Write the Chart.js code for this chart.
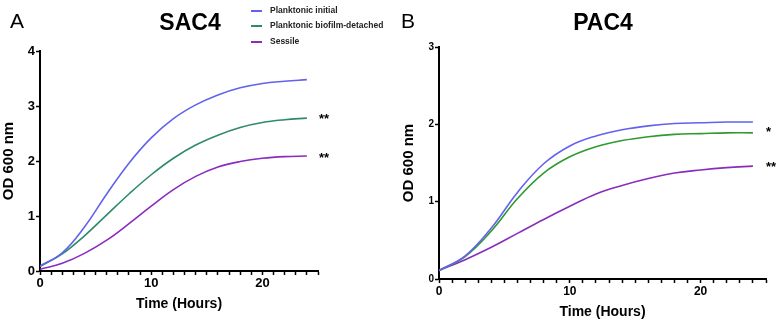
<!DOCTYPE html>
<html>
<head>
<meta charset="utf-8">
<script src="https://cdn.jsdelivr.net/npm/chart.js@4"></script>
<style>
  body { margin: 0; background: #fff; font-family: "Liberation Sans", Arial, sans-serif; }
  #wrap { position: relative; width: 783px; height: 321px; overflow: hidden; }
  canvas { position: absolute; top: 0; }
  .txt { position: absolute; color: #000; white-space: nowrap; }
  .letter { font-size: 21px; }
  .title { font-size: 23px; font-weight: bold; transform: translateX(-50%); }
  .leg { font-size: 8.5px; font-weight: bold; color: #222; }
  .legline { position: absolute; width: 11px; height: 2px; }
  .star { font-size: 13px; font-weight: bold; }
</style>
</head>
<body>
<div id="wrap">
  <canvas id="chartA" width="390" height="321" style="left:0"></canvas>
  <canvas id="chartB" width="393" height="321" style="left:390px"></canvas>

  <div class="txt letter" style="left:10px; top:9px">A</div>
  <div class="txt letter" style="left:401px; top:9px">B</div>
  <div class="txt title" style="left:190px; top:9px">SAC4</div>
  <div class="txt title" style="left:603px; top:9px">PAC4</div>

  <div class="legline" style="left:251px; top:10px; background:#6262ee"></div>
  <div class="txt leg" style="left:270px; top:5px">Planktonic initial</div>
  <div class="legline" style="left:251px; top:25px; background:#2e8a6a"></div>
  <div class="txt leg" style="left:270px; top:20px">Planktonic biofilm-detached</div>
  <div class="legline" style="left:251px; top:41px; background:#8a2cbd"></div>
  <div class="txt leg" style="left:270px; top:36px">Sessile</div>

  <div class="txt star" style="left:319px; top:111px">**</div>
  <div class="txt star" style="left:319px; top:150px">**</div>
  <div class="txt star" style="left:766px; top:124px">*</div>
  <div class="txt star" style="left:766px; top:159px">**</div>
</div>
<script>
// time points (hours)
const hours = [0, 2, 4, 6, 8, 10, 12, 14, 16, 18, 20, 22, 24];

// panel A - SAC4
const sacInitial  = [0.09, 0.33, 0.80, 1.40, 1.96, 2.42, 2.77, 3.02, 3.20, 3.33, 3.41, 3.45, 3.48];
const sacDetached = [0.08, 0.31, 0.64, 1.02, 1.40, 1.75, 2.05, 2.29, 2.47, 2.61, 2.70, 2.75, 2.78];
const sacSessile  = [0.03, 0.14, 0.32, 0.56, 0.86, 1.18, 1.48, 1.72, 1.89, 1.99, 2.05, 2.08, 2.09];

// panel B - PAC4
const pacInitial  = [0.11, 0.30, 0.66, 1.12, 1.49, 1.72, 1.85, 1.93, 1.98, 2.01, 2.02, 2.03, 2.03];
const pacDetached = [0.11, 0.29, 0.62, 1.04, 1.37, 1.58, 1.71, 1.79, 1.84, 1.87, 1.88, 1.89, 1.89];
const pacSessile  = [0.11, 0.25, 0.41, 0.59, 0.77, 0.94, 1.10, 1.21, 1.30, 1.37, 1.41, 1.44, 1.46];

const xTicks = [0, 10, 20];

function toPoints(values) {
  return hours.map((h, i) => ({ x: h, y: values[i] }));
}

function makeDataset(values, color) {
  return {
    data: toPoints(values),
    borderColor: color,
    borderWidth: 1.6,
    pointRadius: 0,
    fill: false,
    tension: 0.4
  };
}

function makeChart(canvasId, series, colors, yMax, opts) {
  const ctx = document.getElementById(canvasId).getContext("2d");
  return new Chart(ctx, {
    type: "line",
    data: {
      datasets: series.map((s, i) => makeDataset(s, colors[i]))
    },
    options: {
      responsive: false,
      animation: false,
      layout: { padding: opts.padding },
      plugins: { legend: { display: false }, tooltip: { enabled: false } },
      scales: {
        x: {
          type: "linear",
          min: 0,
          max: 25,
          afterFit: (scale) => { scale.height = 42; },
          border: { color: "#000", width: 2 },
          grid: { drawOnChartArea: false, tickLength: 4, tickColor: "#000", tickWidth: 1.5 },
          ticks: {
            stepSize: 1,
            autoSkip: false,
            maxRotation: 0,
            padding: 1,
            color: "#000",
            font: { size: opts.xFont, weight: "bold", family: "Liberation Sans" },
            callback: (v) => xTicks.includes(v) ? String(v) : ""
          },
          title: {
            display: true,
            text: "Time (Hours)",
            color: "#000",
            padding: { top: 2, bottom: 0 },
            font: { size: 14, weight: "bold", family: "Liberation Sans" }
          }
        },
        y: {
          min: 0,
          max: yMax,
          afterFit: (scale) => { scale.width = opts.yWidth; },
          border: { color: "#000", width: 2 },
          grid: { drawOnChartArea: false, tickLength: 4, tickColor: "#000", tickWidth: 1.5 },
          ticks: {
            stepSize: 1,
            padding: 1,
            color: "#000",
            font: { size: opts.yFont, weight: "bold", family: "Liberation Sans" }
          },
          title: {
            display: true,
            text: "OD 600 nm",
            color: "#000",
            padding: { top: 0, bottom: 2 },
            font: { size: 15, weight: "bold", family: "Liberation Sans" }
          }
        }
      }
    }
  });
}

makeChart("chartA", [sacInitial, sacDetached, sacSessile],
  ["#6262ee", "#2e8a6a", "#8a2cbd"], 4,
  { padding: { left: 0, right: 72, top: 51, bottom: 8 }, yWidth: 40, xFont: 13, yFont: 13 });

makeChart("chartB", [pacInitial, pacDetached, pacSessile],
  ["#6262ee", "#2f9a2f", "#8a2cbd"], 3,
  { padding: { left: 10, right: 17, top: 47, bottom: 0 }, yWidth: 39, xFont: 12, yFont: 10 });
</script>
</body>
</html>
